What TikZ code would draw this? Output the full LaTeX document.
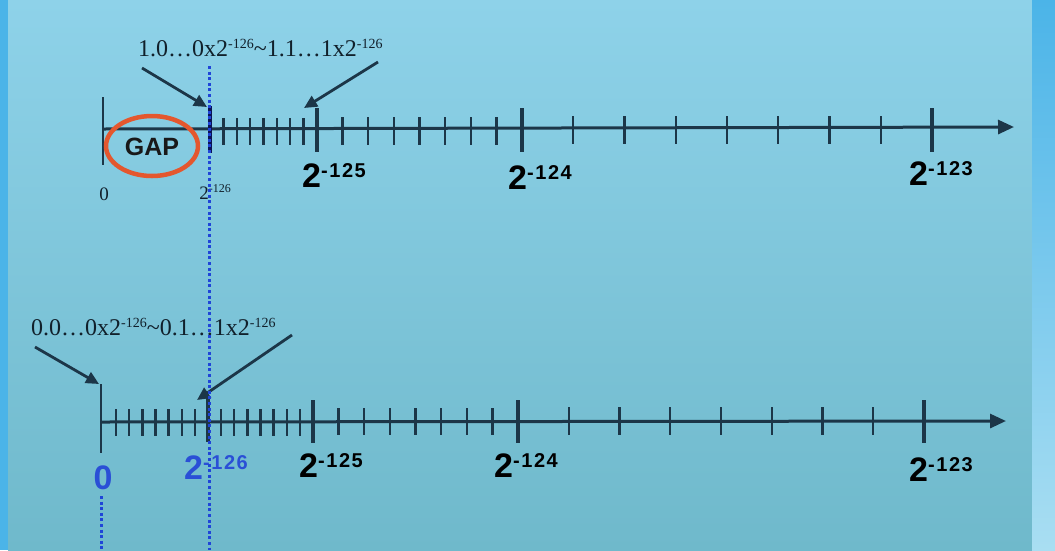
\documentclass[tikz,border=0pt]{standalone}
\usepackage{fontspec}
\setmainfont{Liberation Serif}
\setsansfont{Liberation Sans}
\usetikzlibrary{arrows.meta}
\definecolor{axisc}{HTML}{1C3648}
\definecolor{dotblue}{HTML}{1F45D8}
\definecolor{labblue}{HTML}{2A4FD6}
\definecolor{gapred}{HTML}{E4572E}
\definecolor{bgtop}{HTML}{8ED2E9}
\definecolor{bgbot}{HTML}{6FB9CB}
\definecolor{edgetop}{HTML}{4BB4E8}
\definecolor{edgebot}{HTML}{A9DEF2}
\newcommand{\bigpow}[2][black]{\textcolor{#1}{\sffamily\bfseries\fontsize{34}{34}\selectfont 2\raisebox{10pt}{\addfontfeatures{LetterSpace=8}\fontsize{20}{20}\selectfont #2}}}
\newcommand{\smallpow}[1]{2\raisebox{7pt}{\fontsize{12}{12}\selectfont #1}}
\newcommand{\rsup}[1]{\raisebox{8pt}{\fontsize{14}{14}\selectfont #1}}
\tikzset{
  axisline/.style={draw=axisc, line width=3pt, -{Triangle[length=16pt,width=14pt]}},
  tickline/.style={draw=axisc, line width=2.4pt},
  bigtick/.style={draw=axisc, line width=3.4pt},
  pointer/.style={draw=axisc, line width=2.8pt, -{Triangle[length=13pt,width=12pt]}},
  dotline/.style={draw=dotblue, line width=3pt, dash pattern=on 3pt off 2.6pt},
  powlab/.style={inner sep=0pt, anchor=center},
  rangelab/.style={inner sep=0pt, font=\fontsize{24}{24}\selectfont, text=axisc!60!black}
}
\begin{document}
\begin{tikzpicture}[x=1pt,y=-1pt]
\useasboundingbox (0,0) rectangle (1055,550);
% background
\fill[edgetop] (0,0) rectangle (8,550);
\shade[top color=bgtop, bottom color=bgbot] (8,0) rectangle (1032,550);
\shade[top color=edgetop, bottom color=edgebot] (1032,0) rectangle (1055,550);

% ---------------- top axis ----------------
\coordinate (t0) at (103,129);
\coordinate (tend) at (1014,127);
\draw[axisline] (t0) -- (tend);
\draw[tickline] (103,97) -- (103,165);
\foreach \i in {1,...,7} {
  \draw[tickline] (210+\i*13.375,118) -- (210+\i*13.375,145);
  \draw[tickline] (317+\i*25.625,117) -- (317+\i*25.625,145);
  \draw[tickline] (522+\i*51.25,116) -- (522+\i*51.25,144);
}
\foreach \x in {317,522,932} \draw[bigtick] (\x,108) -- (\x,152);
\draw[draw=axisc!60!blue!60!black, line width=4pt] (210,106) -- (210,153);
\coordinate (t126top) at (207,107);
\coordinate (tlasttop) at (304,108);

% GAP
\draw[gapred, line width=4.5pt] (152,146) ellipse [x radius=46, y radius=30];
\node[font=\sffamily\bfseries\fontsize{25}{25}\selectfont, text=black!90] (gap) at (152,147) {GAP};

% labels
\node[powlab, font=\fontsize{19}{19}\selectfont, text=axisc!60!black] (tl0) at (104,194) {0};
\node[powlab, font=\fontsize{19}{19}\selectfont, text=axisc!60!black] (tl126) at (215,192) {\smallpow{-126}};
\node[powlab] (tl125) at (334,176) {\bigpow{-125}};
\node[powlab] (tl124) at (540,178) {\bigpow{-124}};
\node[powlab] (tl123) at (941,174) {\bigpow{-123}};

\node[rangelab, anchor=west] (trange) at (138,48) {1.0…0x2\rsup{-126}\textasciitilde 1.1…1x2\rsup{-126}};
\coordinate (ta1) at (142,68);
\coordinate (ta2) at (378,62);
\draw[pointer] (ta1) -- (t126top);
\draw[pointer] (ta2) -- (tlasttop);

% ---------------- bottom axis ----------------
\coordinate (b0) at (101,422);
\coordinate (bend) at (1006,421);
\draw[axisline] (b0) -- (bend);
\draw[tickline] (101,384) -- (101,453);
\foreach \i in {1,...,7} {
  \draw[tickline] (103+\i*13.125,409) -- (103+\i*13.125,436);
  \draw[tickline] (208+\i*13.125,409) -- (208+\i*13.125,436);
  \draw[tickline] (313+\i*25.625,408) -- (313+\i*25.625,435);
  \draw[tickline] (518+\i*50.75,407) -- (518+\i*50.75,435);
}
\foreach \x in {313,518,924} \draw[bigtick] (\x,400) -- (\x,443);
\draw[bigtick] (208,398) -- (208,442);
\coordinate (b0top) at (99,384);
\coordinate (b126top) at (197,400);

\node[rangelab, anchor=west] (brange) at (31,327) {0.0…0x2\rsup{-126}\textasciitilde 0.1…1x2\rsup{-126}};
\coordinate (ba1) at (35,347);
\coordinate (ba2) at (292,335);
\draw[pointer] (ba1) -- (b0top);
\draw[pointer] (ba2) -- (b126top);

\node[powlab, font=\sffamily\bfseries\fontsize{34}{34}\selectfont, text=labblue] (bl0) at (103,478) {0};
\node[powlab] (bl126) at (216,468) {\bigpow[labblue]{-126}};
\node[powlab] (bl125) at (331,466) {\bigpow{-125}};
\node[powlab] (bl124) at (526,466) {\bigpow{-124}};
\node[powlab] (bl123) at (941,470) {\bigpow{-123}};

% dotted guide lines
\coordinate (dtop) at (209,66);
\coordinate (dbot) at (209,550);
\draw[dotline] (dtop) -- (dbot);
\coordinate (zd1) at (101,496);
\coordinate (zd2) at (101,550);
\draw[dotline] (zd1) -- (zd2);
\end{tikzpicture}
\end{document}
